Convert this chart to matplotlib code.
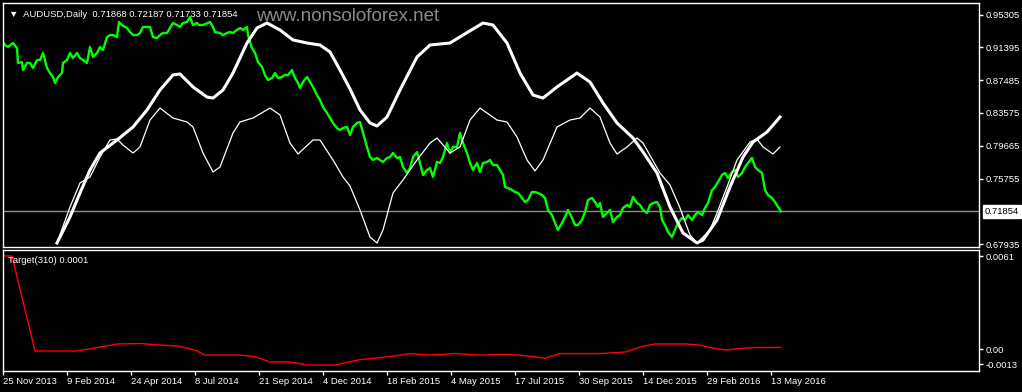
import matplotlib
matplotlib.use("Agg")
import matplotlib.pyplot as plt

plt.rcParams["font.family"] = ["Liberation Sans", "DejaVu Sans"]

# AUDUSD daily close (bar index, price)
price_bar = [0, 2, 5, 10, 14, 15, 19, 20, 24, 27, 30, 34, 37, 40, 44, 47, 50, 52, 55, 59,
             60, 64, 67, 70, 74, 77, 80, 84, 87, 90, 94, 97, 100, 104, 107, 110, 114, 116, 119, 124,
             127, 130, 134, 137, 140, 144, 147, 150, 154, 157, 160, 164, 167, 170, 174, 177, 180, 184, 187, 190,
             194, 196, 200, 207, 210, 212, 217, 220, 224, 227, 230, 234, 237, 240, 244, 245, 247, 249, 252, 255,
             259, 262, 265, 269, 272, 275, 279, 282, 285, 289, 292, 295, 297, 300, 304, 307, 310, 314, 317, 320,
             324, 327, 330, 334, 337, 340, 344, 347, 350, 354, 357, 360, 364, 367, 370, 374, 377, 380, 384, 387,
             390, 394, 397, 400, 404, 407, 410, 414, 417, 420, 424, 427, 430, 434, 437, 440, 444, 447, 450, 454,
             457, 460, 464, 467, 470, 474, 477, 480, 484, 487, 490, 494, 497, 500, 502, 505, 509, 512, 515, 519,
             522, 525, 529, 532, 535, 539, 542, 545, 549, 552, 555, 559, 562, 565, 569, 572, 575, 579, 582, 585,
             589, 592, 595, 597, 600, 604, 607, 610, 614, 617, 620, 624, 627, 630, 634, 637, 640, 644, 647, 650,
             654, 657, 659, 662, 665, 669, 672, 675, 679, 682, 685, 689, 692, 695, 699, 702, 705, 709, 712, 715,
             719, 722, 725, 729, 732, 735, 739, 742, 745, 749, 752, 755, 759, 762, 765, 769, 772, 775, 778]
price = [0.9203, 0.9167, 0.9143, 0.9191, 0.9131, 0.8953, 0.8964, 0.8869, 0.8953, 0.8953,
         0.8893, 0.8988, 0.8988, 0.9072, 0.8893, 0.8833, 0.8786, 0.8714, 0.8786, 0.8833,
         0.8953, 0.8988, 0.9072, 0.9012, 0.9072, 0.9012, 0.8988, 0.8953, 0.9143, 0.9024,
         0.9072, 0.9143, 0.9108, 0.9262, 0.9286, 0.9286, 0.9262, 0.9441, 0.9405, 0.9370,
         0.9322, 0.9286, 0.9286, 0.9310, 0.9382, 0.9382, 0.9382, 0.9262, 0.9251, 0.9286,
         0.9310, 0.9310, 0.9370, 0.9429, 0.9405, 0.9382, 0.9429, 0.9441, 0.9501, 0.9405,
         0.9429, 0.9405, 0.9405, 0.9441, 0.9382, 0.9322, 0.9310, 0.9286, 0.9310, 0.9322,
         0.9310, 0.9346, 0.9370, 0.9346, 0.9382, 0.9286, 0.9203, 0.9131, 0.9072, 0.8964,
         0.8905, 0.8810, 0.8750, 0.8774, 0.8833, 0.8774, 0.8786, 0.8810, 0.8810, 0.8869,
         0.8774, 0.8714, 0.8655, 0.8726, 0.8786, 0.8726, 0.8667, 0.8571, 0.8512, 0.8428,
         0.8357, 0.8297, 0.8238, 0.8178, 0.8154, 0.8178, 0.8190, 0.8095, 0.8190, 0.8238,
         0.8250, 0.8119, 0.7952, 0.7832, 0.7797, 0.7821, 0.7797, 0.7773, 0.7821, 0.7832,
         0.7880, 0.7821, 0.7832, 0.7713, 0.7642, 0.7701, 0.7832, 0.7892, 0.7761, 0.7618,
         0.7678, 0.7701, 0.7594, 0.7773, 0.7761, 0.7832, 0.7999, 0.7880, 0.7952, 0.7952,
         0.8119, 0.7999, 0.7880, 0.7761, 0.7678, 0.7761, 0.7654, 0.7761, 0.7773, 0.7797,
         0.7737, 0.7737, 0.7678, 0.7618, 0.7475, 0.7463, 0.7439, 0.7415, 0.7404, 0.7344,
         0.7296, 0.7320, 0.7415, 0.7415, 0.7404, 0.7380, 0.7344, 0.7201, 0.7141, 0.7046,
         0.6963, 0.7046, 0.7118, 0.7201, 0.7106, 0.7022, 0.7022, 0.7082, 0.7177, 0.7320,
         0.7344, 0.7296, 0.7237, 0.7284, 0.7118, 0.7165, 0.7201, 0.7058, 0.7118, 0.7141,
         0.7225, 0.7261, 0.7237, 0.7356, 0.7284, 0.7261, 0.7201, 0.7165, 0.7261, 0.7284,
         0.7296, 0.7237, 0.7082, 0.7022, 0.6939, 0.6879, 0.6963, 0.7046, 0.7106, 0.7082,
         0.7141, 0.7082, 0.7141, 0.7177, 0.7141, 0.7225, 0.7284, 0.7439, 0.7475, 0.7535,
         0.7618, 0.7642, 0.7582, 0.7654, 0.7678, 0.7594, 0.7642, 0.7713, 0.7761, 0.7821,
         0.7713, 0.7678, 0.7642, 0.7439, 0.7380, 0.7344, 0.7296, 0.7237, 0.7185]

# slow white curve
slow_bar = [54, 67, 77, 87, 97, 114, 130, 144, 157, 170, 177, 190, 204, 210, 220, 230, 244, 254, 264, 277,
            290, 304, 317, 327, 337, 347, 357, 367, 374, 384, 397, 414, 427, 447, 460, 480, 490, 504, 517, 530,
            540, 554, 574, 587, 600, 614, 630, 640, 654, 667, 680, 694, 700, 714, 727, 740, 750, 764, 777]
slow = [0.6808, 0.7118, 0.7404, 0.7678, 0.7880, 0.8035, 0.8190, 0.8393, 0.8631, 0.8810,
        0.8822, 0.8667, 0.8547, 0.8535, 0.8631, 0.8833, 0.9191, 0.9370, 0.9429, 0.9346,
        0.9227, 0.9191, 0.9167, 0.9084, 0.8869, 0.8643, 0.8393, 0.8238, 0.8202, 0.8309,
        0.8631, 0.9024, 0.9167, 0.9191, 0.9286, 0.9429, 0.9405, 0.9191, 0.8833, 0.8571,
        0.8535, 0.8667, 0.8833, 0.8726, 0.8476, 0.8238, 0.8059, 0.7892, 0.7642, 0.7237,
        0.6927, 0.6808, 0.6843, 0.7082, 0.7475, 0.7832, 0.8011, 0.8130, 0.8309]

# fast white curve
fast_bar = [54, 67, 77, 87, 97, 107, 114, 120, 130, 137, 147, 157, 170, 184, 190, 200, 210, 217, 230, 237,
            250, 267, 277, 287, 295, 310, 317, 330, 340, 347, 357, 367, 374, 380, 390, 400, 414, 427, 434, 447,
            457, 467, 477, 494, 504, 514, 524, 532, 540, 554, 567, 577, 587, 597, 607, 614, 624, 634, 640, 657,
            667, 677, 687, 694, 707, 714, 724, 734, 747, 754, 760, 770, 777]
fast = [0.6808, 0.7237, 0.7523, 0.7594, 0.7832, 0.8035, 0.8047, 0.7975, 0.7880, 0.7952,
        0.8273, 0.8416, 0.8297, 0.8250, 0.8190, 0.7880, 0.7654, 0.7713, 0.8119, 0.8250,
        0.8297, 0.8416, 0.8333, 0.7999, 0.7868, 0.8035, 0.8035, 0.7797, 0.7594, 0.7487,
        0.7201, 0.6879, 0.6808, 0.6963, 0.7404, 0.7559, 0.7797, 0.7999, 0.8059, 0.7880,
        0.7952, 0.8273, 0.8416, 0.8273, 0.8250, 0.8071, 0.7797, 0.7666, 0.7797, 0.8190,
        0.8273, 0.8297, 0.8416, 0.8309, 0.7999, 0.7868, 0.7952, 0.8059, 0.7999, 0.7642,
        0.7499, 0.7225, 0.6903, 0.6808, 0.6963, 0.7165, 0.7475, 0.7797, 0.8011, 0.8047,
        0.7952, 0.7868, 0.7952]

# Target(310) indicator
target_bar = [0, 9, 32, 74, 97, 115, 137, 157, 175, 192, 202, 237, 252, 267, 287, 305, 332, 342, 357, 387,
              407, 427, 452, 477, 502, 517, 542, 557, 597, 622, 637, 652, 682, 697, 709, 722, 742, 757, 778]
target = [0.0061, 0.0061, -0.00013, -0.00013, 0.00013, 0.00033, 0.00036, 0.00026, 0.0002, -0.00007,
          -0.0004, -0.0004, -0.0005, -0.00085, -0.00085, -0.00105, -0.00105, -0.0009, -0.0007, -0.0005,
          -0.0003, -0.0004, -0.0003, -0.0004, -0.00035, -0.0004, -0.0006, -0.0003, -0.0003, -0.0002,
          0.00013, 0.00033, 0.00033, 0.00026, 0.00007, -0.00007, 0.00007, 0.0001, 0.0001]

last_price = 0.71854
price_ticks = [0.95305, 0.91395, 0.87485, 0.83575, 0.79665, 0.75755, 0.67935]
target_ticks = [0.0061, 0.00, -0.0010]
target_tick_labels = ["0.0061", "0.00", "-0.0013"]
date_labels = ["25 Nov 2013", "9 Feb 2014", "24 Apr 2014", "8 Jul 2014", "21 Sep 2014",
               "4 Dec 2014", "18 Feb 2015", "4 May 2015", "17 Jul 2015", "30 Sep 2015",
               "14 Dec 2015", "29 Feb 2016", "13 May 2016"]
bars_per_label = 64

W, H = 1022, 392
fig = plt.figure(figsize=(W / 100, H / 100), dpi=100, facecolor="black")

def rect(l, t, r, b):
    return [l / W, 1 - b / H, (r - l) / W, (b - t) / H]

ax = fig.add_axes(rect(3, 3, 979, 247), facecolor="black")
ax2 = fig.add_axes(rect(3, 250, 979, 371), facecolor="black")

fs = 6.8
for a in (ax, ax2):
    for s in a.spines.values():
        s.set_color("white")
        s.set_linewidth(1)
    a.set_xlim(0, 976)
    a.yaxis.tick_right()
    a.tick_params(axis="y", colors="white", labelsize=fs, length=3, width=1, pad=2)

# main panel
ax.axhline(last_price, color="#8c8c8c", lw=1)
ax.plot(price_bar, price, color="#00ff00", lw=1.7)
ax.plot(slow_bar, slow, color="white", lw=2.2)
ax.plot(fast_bar, fast, color="white", lw=0.9)
ax.set_ylim(0.67600, 0.96676)
ax.set_yticks(price_ticks)
ax.set_yticklabels(["%.5f" % v for v in price_ticks])
ax.set_xticks([])
ax.text(1.0 + 6 / 976, last_price, "%.5f" % last_price, transform=ax.get_yaxis_transform(),
        fontsize=fs, color="black", va="center", ha="left",
        bbox=dict(boxstyle="square,pad=0.2", fc="white", ec="white"))
ax.text(6 / 976, 0.97, "\u25bc  AUDUSD,Daily  0.71868 0.72187 0.71733 0.71854",
        transform=ax.transAxes, color="white", fontsize=fs, va="top", ha="left")
ax.text(253 / 976, 0.98, "www.nonsoloforex.net", transform=ax.transAxes,
        color="#8a8a8a", fontsize=13.5, va="top", ha="left")

# lower panel
ax2.plot(target_bar, target, color="#ff0000", lw=1)
ax2.set_ylim(-0.001443, 0.006494)
ax2.set_yticks(target_ticks)
ax2.set_yticklabels(target_tick_labels)
ax2.text(5 / 976, 0.95, "Target(310) 0.0001", transform=ax2.transAxes,
         color="white", fontsize=fs, va="top", ha="left")
ax2.set_xticks([i * bars_per_label for i in range(len(date_labels))])
ax2.set_xticklabels(date_labels)
ax2.tick_params(axis="x", colors="white", labelsize=fs, length=3, width=1, pad=1)
for lab in ax2.get_xticklabels():
    lab.set_horizontalalignment("left")

fig.savefig("out.png", dpi=100, facecolor="black")
